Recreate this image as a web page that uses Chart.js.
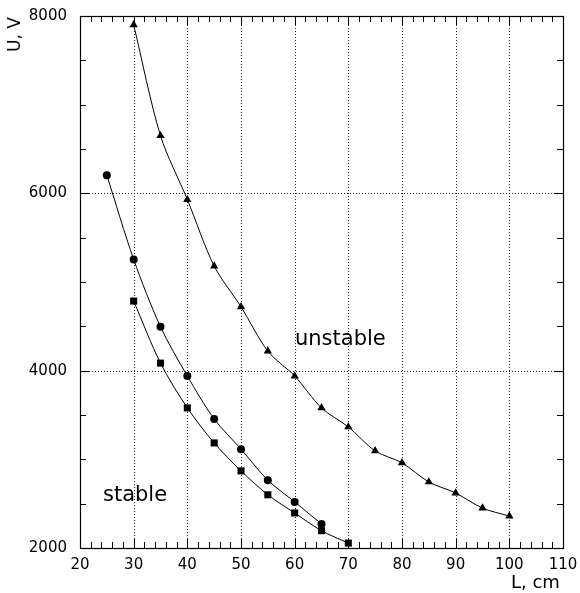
<!DOCTYPE html>
<html>
<head>
<meta charset="utf-8">
<script src="https://cdn.jsdelivr.net/npm/chart.js@4.4.1/dist/chart.umd.min.js"></script>
<style>
  html, body { margin: 0; padding: 0; background: #fff; }
  #wrap { position: relative; width: 580px; height: 593px; }
  .lbl { position: absolute; font-family: "DejaVu Sans", sans-serif; color: #000; white-space: nowrap; line-height: 1; }
</style>
</head>
<body>
<div id="wrap">
  <canvas id="c" width="580" height="593"></canvas>
  <div class="lbl" id="ytitle" style="font-size:17px; left:-3px; top:26px; transform: rotate(-90deg); transform-origin: center;">U, V</div>
  <div class="lbl" style="font-size:18px; left:511px; top:573px;">L, cm</div>
  <div class="lbl" style="font-size:21px; left:295px; top:328px;">unstable</div>
  <div class="lbl" style="font-size:21px; left:103px; top:484px;">stable</div>
</div>
<script>
// ---- data ----
const unstableL = [30, 35, 40, 45, 50, 55, 60, 65, 70, 75, 80, 85, 90, 95, 100];
const unstableU = [7900, 6650, 5930, 5180, 4720, 4220, 3940, 3580, 3365, 3095, 2960, 2745, 2620, 2450, 2360];
const circleL = [25, 30, 35, 40, 45, 50, 55, 60, 65];
const circleU = [6205, 5255, 4495, 3940, 3455, 3115, 2765, 2520, 2270];
const squareL = [30, 35, 40, 45, 50, 55, 60, 65, 70];
const squareU = [4785, 4085, 3580, 3185, 2870, 2600, 2395, 2195, 2055];
const xTicks = [20, 30, 40, 50, 60, 70, 80, 90, 100, 110];
const yTicks = [2000, 4000, 6000, 8000];

const pts = (xs, ys) => xs.map((x, i) => ({ x: x, y: ys[i] }));

const ds = (data, style, r) => ({
  data: data,
  showLine: true,
  borderColor: '#000',
  backgroundColor: '#000',
  borderWidth: 1,
  pointStyle: style,
  pointRadius: r,
  pointHoverRadius: r,
  pointBorderWidth: 0,
  tension: 0.3
});

const frame = {
  id: 'frame',
  beforeDatasetsDraw(chart) {
    const { ctx, chartArea: a, scales: { x, y } } = chart;
    ctx.save();
    ctx.strokeStyle = '#222';
    ctx.lineWidth = 1;
    ctx.setLineDash([1, 2]);
    for (let v = 30; v <= 100; v += 10) {
      const px = Math.round(x.getPixelForValue(v)) + 0.5;
      ctx.beginPath(); ctx.moveTo(px, a.top); ctx.lineTo(px, a.bottom); ctx.stroke();
    }
    for (let v = 4000; v <= 6000; v += 2000) {
      const py = Math.round(y.getPixelForValue(v)) + 0.5;
      ctx.beginPath(); ctx.moveTo(a.left, py); ctx.lineTo(a.right, py); ctx.stroke();
    }
    ctx.setLineDash([]);
    ctx.strokeStyle = '#000';
    for (let v = 22; v < 110; v += 2) {
      const px = Math.round(x.getPixelForValue(v)) + 0.5;
      const len = (v % 10 === 0) ? 9 : 6;
      ctx.beginPath();
      ctx.moveTo(px, a.bottom); ctx.lineTo(px, a.bottom - len);
      ctx.moveTo(px, a.top); ctx.lineTo(px, a.top + len);
      ctx.stroke();
    }
    for (let v = 2500; v < 8000; v += 500) {
      const py = Math.round(y.getPixelForValue(v)) + 0.5;
      const len = (v % 2000 === 0) ? 9 : 6;
      ctx.beginPath();
      ctx.moveTo(a.left, py); ctx.lineTo(a.left + len, py);
      ctx.moveTo(a.right, py); ctx.lineTo(a.right - len, py);
      ctx.stroke();
    }
    ctx.lineWidth = 1.2;
    ctx.strokeRect(Math.round(a.left) + 0.5, Math.round(a.top) + 0.5,
                   Math.round(a.right - a.left), Math.round(a.bottom - a.top));
    ctx.restore();
  }
};

new Chart(document.getElementById('c'), {
  type: 'scatter',
  data: {
    datasets: [
      ds(pts(unstableL, unstableU), 'triangle', 4.8),
      ds(pts(circleL, circleU), 'circle', 4),
      ds(pts(squareL, squareU), 'rect', 5)
    ]
  },
  options: {
    responsive: false,
    animation: false,
    layout: { padding: { left: 0, top: 16, right: 17, bottom: 0 } },
    plugins: { legend: { display: false }, tooltip: { enabled: false } },
    scales: {
      x: {
        type: 'linear', min: 20, max: 110,
        afterBuildTicks: s => { s.ticks = xTicks.map(v => ({ value: v })); },
        afterFit: s => { s.height = 45; s.paddingLeft = 0; s.paddingRight = 0; },
        grid: { display: false, drawTicks: false },
        border: { display: false },
        ticks: { color: '#000', padding: 8, maxRotation: 0, autoSkip: false,
                 font: { family: 'DejaVu Sans', size: 15 } }
      },
      y: {
        type: 'linear', min: 2000, max: 8000,
        afterBuildTicks: s => { s.ticks = yTicks.map(v => ({ value: v })); },
        afterFit: s => { s.width = 80; s.paddingTop = 0; s.paddingBottom = 0; },
        grid: { display: false, drawTicks: false },
        border: { display: false },
        ticks: { color: '#000', padding: 13, autoSkip: false,
                 font: { family: 'DejaVu Sans', size: 15 },
                 callback: v => String(v) }
      }
    }
  },
  plugins: [frame]
});
</script>
</body>
</html>
